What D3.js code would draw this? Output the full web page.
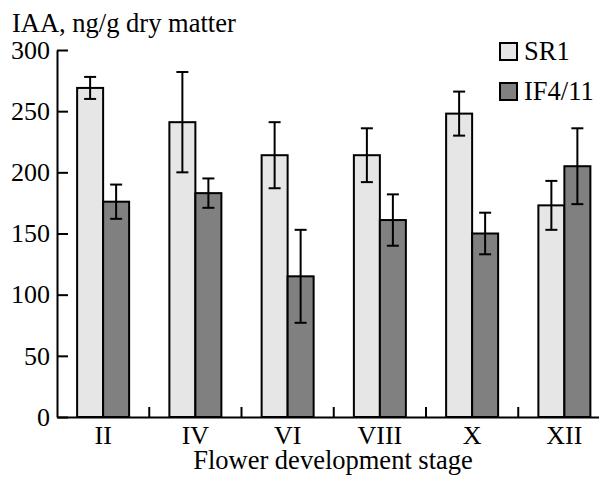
<!DOCTYPE html>
<html>
<head>
<meta charset="utf-8">
<script src="https://cdn.jsdelivr.net/npm/d3@7"></script>
<style>
	body { margin: 0; background: white; }
	svg { display: block; }
	text { font-family: "Liberation Serif", "Times New Roman", serif; }
</style>
</head>
<body>
<div id="chart"></div>
<script>

let stages = ['II', 'IV', 'VI', 'VIII', 'X', 'XII']

let seriesNames = ['SR1', 'IF4/11']

let sr1Values = [269, 241, 214, 214, 248, 173]
let sr1Errors = [9, 41, 27, 22, 18, 20]

let ifValues = [176, 183, 115, 161, 150, 205]
let ifErrors = [14, 12, 38, 21, 17, 31]

let yTicks = [0, 50, 100, 150, 200, 250, 300]

let colors = ['#e6e6e6', '#808080']

let width = 599
let height = 478

let plotLeft = 57
let plotBottom = 417
let plotTop = 50
let band = 92.25
let barWidth = 26
let tickFont = 26
let labelFont = 26.5

let rows = []
stages.forEach(function(s, i){
	rows.push({'stage': s, 'series': 0, 'value': sr1Values[i], 'err': sr1Errors[i]})
	rows.push({'stage': s, 'series': 1, 'value': ifValues[i], 'err': ifErrors[i]})
})

let xScale = d3.scaleBand()
	.domain(stages)
	.range([plotLeft, plotLeft + band * stages.length])

let yScale = d3.scaleLinear()
	.domain([0, 300])
	.range([plotBottom, plotTop])

const svg = d3.select('#chart')
	.append('svg')
	.attr('width', width)
	.attr('height', height)

let barX = d => xScale(d.stage) + xScale.bandwidth() / 2 - barWidth + d.series * barWidth

svg.selectAll('.bar')
	.data(rows)
	.enter()
	.append('rect')
	.attr('class', 'bar')
	.attr('x', barX)
	.attr('y', d => yScale(d.value))
	.attr('width', barWidth)
	.attr('height', d => yScale(0) - yScale(d.value))
	.attr('fill', d => colors[d.series])
	.attr('stroke', 'black')
	.attr('stroke-width', 2)

// error bars
let errG = svg.selectAll('.err')
	.data(rows)
	.enter()
	.append('g')
	.attr('class', 'err')
	.attr('transform', d => `translate(${barX(d) + barWidth / 2},0)`)

errG.append('line')
	.attr('y1', d => yScale(d.value + d.err))
	.attr('y2', d => yScale(d.value - d.err))
	.attr('stroke', 'black')
	.attr('stroke-width', 2)

errG.selectAll('.cap')
	.data(d => [d.value + d.err, d.value - d.err])
	.enter()
	.append('line')
	.attr('x1', -6)
	.attr('x2', 6)
	.attr('y1', v => yScale(v))
	.attr('y2', v => yScale(v))
	.attr('stroke', 'black')
	.attr('stroke-width', 2)

let yAxis = g => g.attr('transform', `translate(${plotLeft},0)`)
	.call(d3.axisLeft(yScale).tickValues(yTicks).tickSizeInner(-11).tickSizeOuter(0).tickPadding(7))

let xAxis = g => g.attr('transform', `translate(0,${plotBottom})`)
	.call(d3.axisBottom(xScale).tickSize(0).tickPadding(9))

let yG = svg.append('g').call(yAxis)
let xG = svg.append('g').call(xAxis)

;[xG, yG].forEach(function(g){
	g.selectAll('text').attr('fill', 'black').attr('font-size', tickFont)
		.attr('font-family', '"Liberation Serif", "Times New Roman", serif')
	g.selectAll('path').attr('stroke', 'black').attr('stroke-width', 2)
	g.selectAll('line').attr('stroke', 'black').attr('stroke-width', 2)
})

// separators between stage groups
svg.selectAll('.sep')
	.data(stages.slice(1))
	.enter()
	.append('line')
	.attr('x1', d => xScale(d))
	.attr('x2', d => xScale(d))
	.attr('y1', plotBottom)
	.attr('y2', plotBottom - 10)
	.attr('stroke', 'black')
	.attr('stroke-width', 2)

svg.append('text')
	.attr('x', 12)
	.attr('y', 32)
	.attr('font-size', labelFont)
	.text('IAA, ng/g dry matter')

svg.append('text')
	.attr('x', 333)
	.attr('y', 469)
	.attr('text-anchor', 'middle')
	.attr('font-size', labelFont)
	.text('Flower development stage')

let legend = svg.selectAll('.legend')
	.data(seriesNames)
	.enter()
	.append('g')
	.attr('class', 'legend')
	.attr('transform', (d, i) => `translate(500,${43 + i * 40})`)

legend.append('rect')
	.attr('width', 17)
	.attr('height', 17)
	.attr('fill', (d, i) => colors[i])
	.attr('stroke', 'black')
	.attr('stroke-width', 2)

legend.append('text')
	.attr('x', 24)
	.attr('y', 17)
	.attr('font-size', labelFont)
	.text(d => d)

</script>
</body>
</html>
